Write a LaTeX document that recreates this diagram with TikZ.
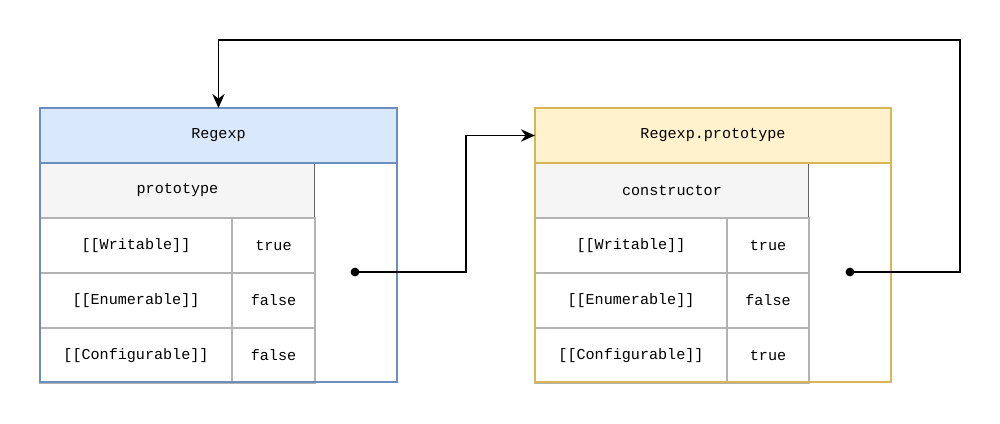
\documentclass[tikz,border=0pt]{standalone}
\usepackage{fontspec}
\setmonofont{Liberation Mono}
\usetikzlibrary{positioning,calc,arrows.meta}
\definecolor{blueF}{HTML}{DAE8FC}
\definecolor{blueD}{HTML}{6C8EBF}
\definecolor{yelF}{HTML}{FFF2CC}
\definecolor{yelD}{HTML}{D6B656}
\definecolor{grayF}{HTML}{F5F5F5}
\definecolor{cellD}{HTML}{B3B3B3}
\tikzset{
  cell/.style={draw=cellD, line width=0.6pt, minimum height=1.1cm, inner sep=0pt, outer sep=0pt, font=\ttfamily\fontsize{8.6}{10}\selectfont},
  head/.style={cell, draw=none, minimum width=7.14cm},
  key/.style={cell, draw=black!60, fill=grayF, minimum width=5.5cm},
  dot/.style={circle, fill=black, inner sep=0pt, minimum size=5pt},
  link/.style={-{Stealth[length=8pt,width=7pt]}, line width=0.8pt},
}
\begin{document}
\begin{tikzpicture}[x=0.02cm, y=-0.02cm]
\useasboundingbox (0,0) rectangle (1000,423);
% Regexp object
\draw[cellD, line width=0.6pt] (40,163) rectangle (397,382);
\node[head, fill=blueF, anchor=north west] (rxHead) at (40,108) {Regexp};
\node[key, anchor=north west] (rxKey) at (40,163) {prototype};
\node[cell, minimum width=3.84cm, anchor=north west] (rxW) at (40,218) {[[Writable]]};
\node[cell, minimum width=3.84cm, anchor=north west] (rxE) at (40,273) {[[Enumerable]]};
\node[cell, minimum width=3.84cm, anchor=north west] (rxC) at (40,328) {[[Configurable]]};
\node[cell, minimum width=1.66cm, anchor=north west] (rxWv) at (232,218) {true};
\node[cell, minimum width=1.66cm, anchor=north west] (rxEv) at (232,273) {false};
\node[cell, minimum width=1.66cm, anchor=north west] (rxCv) at (232,328) {false};
\draw[blueD, line width=1.2pt] (40,108) rectangle (397,382) (40,163) -- (397,163);
% Regexp.prototype object
\draw[cellD, line width=0.6pt] (535,163) rectangle (891,382);
\node[head, fill=yelF, anchor=north west, minimum width=7.12cm] (ptHead) at (535,108) {Regexp.prototype};
\node[key, anchor=north west, minimum width=5.48cm] (ptKey) at (535,163) {constructor};
\node[cell, minimum width=3.84cm, anchor=north west] (ptW) at (535,218) {[[Writable]]};
\node[cell, minimum width=3.84cm, anchor=north west] (ptE) at (535,273) {[[Enumerable]]};
\node[cell, minimum width=3.84cm, anchor=north west] (ptC) at (535,328) {[[Configurable]]};
\node[cell, minimum width=1.64cm, anchor=north west] (ptWv) at (727,218) {true};
\node[cell, minimum width=1.64cm, anchor=north west] (ptEv) at (727,273) {false};
\node[cell, minimum width=1.64cm, anchor=north west] (ptCv) at (727,328) {true};
\draw[yelD, line width=1.2pt] (535,108) rectangle (891,382) (535,163) -- (891,163);
% pointers
\node[dot] (rxPtr) at (355,272) {};
\node[dot] (ptPtr) at (850,272) {};
\coordinate (rxBend) at (466,0);
\coordinate (ptBend) at (960,40);
\draw[link] (rxPtr.center) -| (rxBend |- ptHead.west) -- (ptHead.west);
\draw[link] (ptPtr.center) -| (ptBend) -| (rxHead.north);
\end{tikzpicture}
\end{document}
